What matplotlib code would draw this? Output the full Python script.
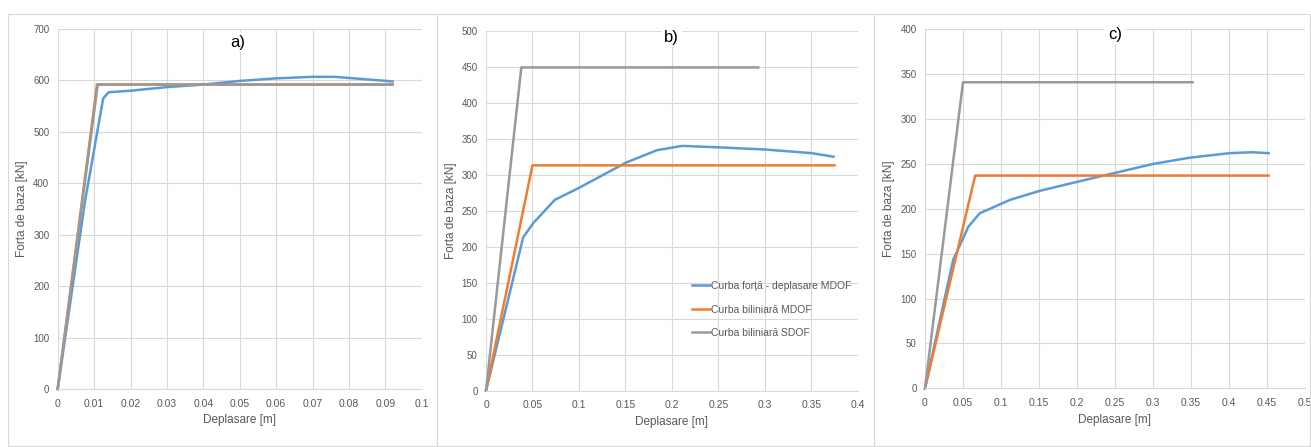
import matplotlib
matplotlib.use("Agg")
import matplotlib.pyplot as plt
from matplotlib.patches import Rectangle

plt.rcParams['font.family'] = ['Liberation Sans Narrow', 'Liberation Sans', 'DejaVu Sans']

# ---------------- data ----------------
# Panel a)
a_mdof_x = [0, 0.0075, 0.0125, 0.014, 0.02, 0.03, 0.04, 0.05, 0.06, 0.07, 0.076, 0.085, 0.092]
a_mdof_y = [0, 365, 565, 577, 580, 587, 592, 599, 604, 607, 607, 602, 598]
a_bil_mdof_x = [0, 0.0108, 0.092]
a_bil_mdof_y = [0, 592, 592]
a_bil_sdof_x = [0, 0.011, 0.092]
a_bil_sdof_y = [0, 592, 592]

# Panel b)
b_mdof_x = [0, 0.04, 0.051, 0.074, 0.099, 0.151, 0.184, 0.211, 0.25, 0.3, 0.35, 0.374]
b_mdof_y = [0, 213, 233, 265, 281, 317, 334, 340, 338, 335, 330, 325]
b_bil_mdof_x = [0, 0.05, 0.375]
b_bil_mdof_y = [0, 313, 313]
b_bil_sdof_x = [0, 0.038, 0.293]
b_bil_sdof_y = [0, 449, 449]

# Panel c)
c_mdof_x = [0, 0.037, 0.057, 0.072, 0.112, 0.151, 0.2, 0.25, 0.3, 0.349, 0.401, 0.43, 0.452]
c_mdof_y = [0, 143, 180, 195, 210, 220, 230, 240, 250, 257, 262, 263, 262]
c_bil_mdof_x = [0, 0.066, 0.452]
c_bil_mdof_y = [0, 237, 237]
c_bil_sdof_x = [0, 0.05, 0.352]
c_bil_sdof_y = [0, 341, 341]

x_ticks_a = [0, 0.01, 0.02, 0.03, 0.04, 0.05, 0.06, 0.07, 0.08, 0.09, 0.1]
x_ticks_b = [0, 0.05, 0.1, 0.15, 0.2, 0.25, 0.3, 0.35, 0.4]
x_ticks_c = [0, 0.05, 0.1, 0.15, 0.2, 0.25, 0.3, 0.35, 0.4, 0.45, 0.5]
y_ticks_a = [0, 100, 200, 300, 400, 500, 600, 700]
y_ticks_b = [0, 50, 100, 150, 200, 250, 300, 350, 400, 450, 500]
y_ticks_c = [0, 50, 100, 150, 200, 250, 300, 350, 400]

labels = ['Curba forță - deplasare MDOF', 'Curba biliniară MDOF', 'Curba biliniară SDOF']
titles = ['a)', 'b)', 'c)']
xlabel = 'Deplasare [m]'
ylabel = 'Forta de baza [kN]'

C_BLUE = '#5B9BD5'
C_ORANGE = '#ED7D31'
C_GRAY = '#999999'
TXT = '#595959'
GRID = '#d9d9d9'

W, H = 1311, 447
fig = plt.figure(figsize=(W / 100, H / 100), dpi=100)

def fx(px):
    return px / W

def fy(py):
    return 1 - py / H

# panel borders
for (x0, x1) in [(8, 437), (437, 874), (874, 1310)]:
    fig.add_artist(Rectangle((fx(x0), fy(446)), fx(x1 - x0), fy(14) - fy(446),
                             transform=fig.transFigure, fill=False,
                             edgecolor='#d9d9d9', lw=0.8))

panels = [
    dict(box=(57.7, 421.7, 29, 389), xt=x_ticks_a, yt=y_ticks_a,
         xs=[(a_mdof_x, a_mdof_y), (a_bil_mdof_x, a_bil_mdof_y), (a_bil_sdof_x, a_bil_sdof_y)],
         tx=0.0495, ty_px=42, legend=False, ylab_px=28),
    dict(box=(486, 857.7, 30.7, 390.7), xt=x_ticks_b, yt=y_ticks_b,
         xs=[(b_mdof_x, b_mdof_y), (b_bil_mdof_x, b_bil_mdof_y), (b_bil_sdof_x, b_bil_sdof_y)],
         tx=0.2, ty_px=37, legend=True, ylab_px=457),
    dict(box=(925, 1305, 29.3, 388.3), xt=x_ticks_c, yt=y_ticks_c,
         xs=[(c_mdof_x, c_mdof_y), (c_bil_mdof_x, c_bil_mdof_y), (c_bil_sdof_x, c_bil_sdof_y)],
         tx=0.25, ty_px=34, legend=False, ylab_px=895),
]

colors = [C_BLUE, C_ORANGE, C_GRAY]

for i, p in enumerate(panels):
    l, r, t, b = p['box']
    ax = fig.add_axes([fx(l), fy(b), fx(r - l), fy(t) - fy(b)])
    ax.set_xlim(p['xt'][0], p['xt'][-1])
    ax.set_ylim(p['yt'][0], p['yt'][-1])
    ax.set_xticks(p['xt'])
    ax.set_yticks(p['yt'])
    ax.set_xticklabels([('%g' % v) for v in p['xt']])
    ax.set_yticklabels([('%g' % v) for v in p['yt']])
    ax.grid(True, color=GRID, lw=0.8)
    ax.set_axisbelow(True)
    for s in ['top', 'right', 'left']:
        ax.spines[s].set_visible(False)
    ax.spines['bottom'].set_color(GRID)
    ax.tick_params(axis='x', length=0, labelsize=7.5, labelcolor=TXT, pad=7)
    ax.tick_params(axis='y', length=0, labelsize=7, labelcolor=TXT, pad=6)
    ax.set_xlabel(xlabel, fontsize=8.5, color=TXT, labelpad=4)
    ax.set_ylabel(ylabel, fontsize=8.5, color=TXT)
    ax.yaxis.set_label_coords((p['ylab_px'] - l) / (r - l), 0.5)
    for (xs, ys), c, lab in zip(p['xs'], colors, labels):
        ax.plot(xs, ys, color=c, lw=1.8, label=lab, clip_on=False,
                solid_joinstyle='round')
    ax.text(p['tx'], p['yt'][-1] - (p['ty_px'] - t) / (b - t) * p['yt'][-1], titles[i],
            ha='center', va='center', fontsize=12, color='black',
            bbox=dict(facecolor='white', edgecolor='none', pad=2))
    if p['legend']:
        leg = ax.legend(loc='lower left', bbox_to_anchor=(0.53, 0.12), frameon=False,
                        fontsize=7.5, handlelength=1.7, handletextpad=0.1,
                        labelspacing=1.3, labelcolor=TXT)

fig.savefig('out.png', dpi=100)
